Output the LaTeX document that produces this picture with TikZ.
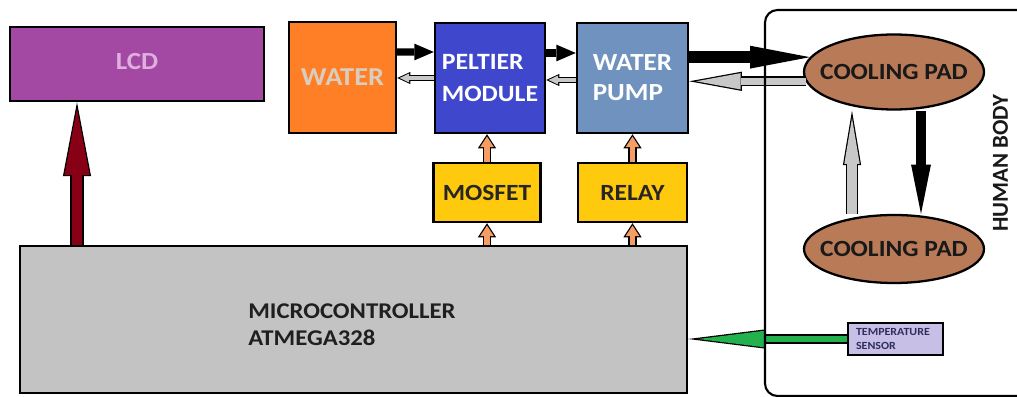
\documentclass[tikz,border=0pt]{standalone}
\usepackage{fontspec}
\setmainfont{Carlito}[FakeStretch=1.1]
\newfontfamily\upfont{Carlito}
\usetikzlibrary{positioning,arrows.meta,shapes.geometric}
\definecolor{lcdpurple}{HTML}{A349A4}
\definecolor{lcdtext}{HTML}{DDB0DD}
\definecolor{waterorange}{HTML}{FF7F27}
\definecolor{watertext}{HTML}{D9CDBF}
\definecolor{peltblue}{HTML}{3F48CC}
\definecolor{pumpblue}{HTML}{7092BE}
\definecolor{drvyellow}{HTML}{FFC90E}
\definecolor{mcugray}{HTML}{C3C3C3}
\definecolor{padbrown}{HTML}{B97A57}
\definecolor{sensorlilac}{HTML}{C8BFE7}
\definecolor{sensortext}{HTML}{2E2E5C}
\definecolor{arrgray}{HTML}{C8C8C8}
\definecolor{arrred}{HTML}{880015}
\definecolor{arrgreen}{HTML}{22B14C}
\definecolor{arrorange}{HTML}{F59D62}

\begin{document}
\begin{tikzpicture}[
  unit/.style={draw,line width=1.4pt,inner sep=0pt,align=left},
  pad/.style={ellipse,draw,line width=1.3pt,fill=padbrown,minimum width=3.6cm,inner xsep=-5.8pt,inner ysep=0pt,text=black!90,font=\bfseries\fontsize{13.2}{16}\selectfont},
  blkarr/.style={draw=black,line width=4pt,-{Triangle[length=11pt,width=9.5pt,line width=0pt]}},
  bigblk/.style={draw=black,line width=6.8pt,-{Triangle[length=34pt,width=13pt,line width=0pt]}},
  padblk/.style={draw=black,line width=5.3pt,-{Triangle[length=28pt,width=11.3pt,line width=0pt]}},
  grayarr/.style={draw=arrgray,line width=2.2pt,shorten >=1.4pt,-{Triangle[length=5.4pt,width=5.2pt,line width=0pt]},
    preaction={draw=black,line width=3.5pt,shorten >=0pt,-{Triangle[length=7.5pt,width=7pt,line width=0pt]}}},
  biggray/.style={draw=arrgray,line width=4.1pt,shorten >=3.9pt,-{Triangle[length=25.4pt,width=9.3pt,line width=0pt]},
    preaction={draw=black,line width=5.5pt,shorten >=0pt,-{Triangle[length=30pt,width=11pt,line width=0pt]}}},
  padgray/.style={draw=arrgray,line width=5.2pt,shorten >=4.2pt,-{Triangle[length=26.1pt,width=8.8pt,line width=0pt]},
    preaction={draw=black,line width=6.6pt,shorten >=0pt,-{Triangle[length=31pt,width=10.4pt,line width=0pt]}}},
  greenarr/.style={draw=arrgreen,line width=3.8pt,shorten >=5.7pt,-{Triangle[length=37.6pt,width=9.4pt,line width=0pt]},
    preaction={draw=black,line width=5.2pt,shorten >=0pt,-{Triangle[length=44pt,width=11pt,line width=0pt]}}},
  redarr/.style={draw=arrred,line width=6pt,shorten >=3.7pt,-{Triangle[length=37.6pt,width=14.3pt,line width=0pt]},
    preaction={draw=black,line width=7.4pt,shorten >=0pt,-{Triangle[length=42pt,width=16pt,line width=0pt]}}},
  orarr/.style={draw=arrorange,line width=3.4pt,shorten >=1.3pt,-{Triangle[length=6pt,width=7.8pt,line width=0pt]},
    preaction={draw=black,line width=5pt,shorten >=0pt,-{Triangle[length=8pt,width=10.4pt,line width=0pt]}}}]
\path[use as bounding box,clip] (0,0) rectangle (20.34,-7.94);
% blocks
\node[unit,fill=lcdpurple,minimum width=5.08cm,minimum height=1.48cm,text=lcdtext,font=\bfseries\fontsize{14}{16}\selectfont] (lcd) at (2.74,-1.28) {\raisebox{3pt}{LCD}};
\node[unit,fill=waterorange,minimum width=2.14cm,minimum height=2.22cm,text=watertext,font=\bfseries\fontsize{14.7}{17}\selectfont] (water) at (6.85,-1.55) {WATER};
\node[unit,fill=peltblue,minimum width=2.2cm,minimum height=2.2cm,text=white,font=\bfseries\fontsize{13.3}{18}\selectfont] (peltier) at (9.8,-1.56) {PELTIER\\MODULE};
\node[unit,fill=pumpblue,minimum width=2.22cm,minimum height=2.2cm,text=white,font=\bfseries\fontsize{14}{17}\selectfont] (pump) at (12.65,-1.56) {WATER\\PUMP};
\node[unit,fill=drvyellow,minimum width=2.14cm,minimum height=1.18cm,text=black!85,font=\bfseries\fontsize{13.2}{16}\selectfont] (mosfet) at (9.74,-3.85) {MOSFET};
\node[unit,fill=drvyellow,minimum width=2.18cm,minimum height=1.18cm,text=black!85,font=\bfseries\fontsize{13.2}{16}\selectfont] (relay) at (12.65,-3.85) {RELAY};
\node[unit,fill=mcugray,minimum width=13.34cm,minimum height=2.94cm] (mcu) at (7.07,-6.39) {};
\node[anchor=west,align=left,inner sep=0pt,text=black!88,font=\bfseries\fontsize{12.8}{15.3}\selectfont] (mcutext) at (4.96,-6.5) {MICROCONTROLLER\\ATMEGA328};
% human body side
\node[pad,minimum height=1.5cm] (pad1) at (17.88,-1.44) {COOLING PAD};
\node[pad,minimum height=1.36cm] (pad2) at (17.88,-4.98) {COOLING PAD};
\node[draw,line width=1.2pt,fill=sensorlilac,minimum width=1.9cm,minimum height=0.64cm,text width=1.58cm,align=left,inner sep=0pt,text=sensortext,font=\bfseries\fontsize{6.2}{7.6}\selectfont] (sensor) at (17.91,-6.78) {TEMPERATURE\\SENSOR};
\node[rotate=90,text=black!90,font=\upfont\bfseries\fontsize{13}{15}\selectfont] (bodylabel) at (20.01,-3.26) {HUMAN BODY};
% connectors
\draw[blkarr] ([yshift=0.51cm]water.east) -- ([yshift=0.52cm]peltier.west);
\draw[grayarr] (peltier.west) -- ([yshift=-0.01cm]water.east);
\draw[blkarr] ([yshift=0.5cm]peltier.east) -- ([yshift=0.5cm]pump.west);
\draw[grayarr] ([yshift=-0.04cm]pump.west) -- ([yshift=-0.04cm]peltier.east);
\draw[bigblk] (pump.east |- pad1.170) -- (pad1.170);
\draw[biggray] (pad1.186) -- (pump.east |- pad1.186);
\draw[padgray] ([xshift=-0.84cm]pad2.north) -- ([xshift=-0.84cm]pad1.south);
\draw[padblk] ([xshift=0.54cm]pad1.south) -- ([xshift=0.54cm]pad2.north);
\draw[greenarr] (sensor.west) -- (mcu.east |- sensor.west);
\coordinate (lcdfeed) at ([xshift=-1.2cm]lcd.south);
\draw[redarr] (lcdfeed |- mcu.north) -- (lcdfeed);
\draw[orarr] (mosfet.north) -- (mosfet.north |- peltier.south);
\draw[orarr] (mosfet.south |- mcu.north) -- (mosfet.south);
\draw[orarr] (relay.north) -- (relay.north |- pump.south);
\draw[orarr] (relay.south |- mcu.north) -- (relay.south);
% frame on top of the arrows
\node[draw,line width=1.2pt,rounded corners=0.25cm,minimum width=5.3cm,minimum height=7.72cm] (body) at (17.95,-4.06) {};
\end{tikzpicture}
\end{document}
